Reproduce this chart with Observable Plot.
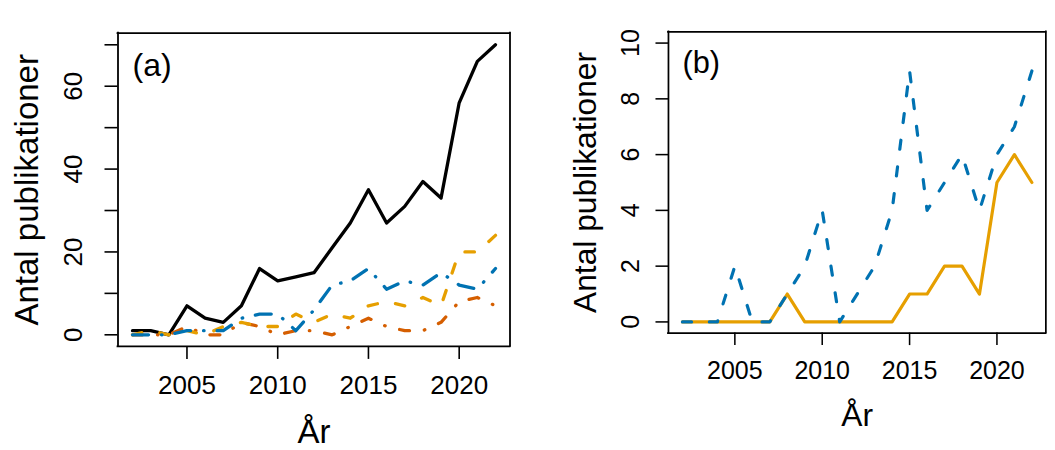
<!DOCTYPE html>
<html><head><meta charset="utf-8">
<script src="https://cdn.jsdelivr.net/npm/d3@7"></script>
<script src="https://cdn.jsdelivr.net/npm/@observablehq/plot@0.6"></script>
<style>
html,body{margin:0;padding:0;background:#fff;overflow:hidden;}
#wrap{position:relative;width:1055px;height:450px;overflow:hidden;background:#fff;}
#a,#b{position:absolute;top:0;}
#a{left:0;} #b{left:555px;}
</style></head><body>
<div id="wrap"><div id="a"></div><div id="b"></div></div>
<script>
const years = [2002,2003,2004,2005,2006,2007,2008,2009,2010,2011,2012,2013,2014,2015,2016,2017,2018,2019,2020,2021,2022];
const totalA  = [1,1,0,7,4,3,7,16,13,14,15,21,27,35,27,31,37,33,56,66,70];
const yellowA = [0,1,0,1,0,2,3,2,2,5,3,5,4,7,8,7,9,7,20,20,24];
const blueA   = [0,0,0,1,1,1,4,5,5,1,6,12,13,16,11,13,12,15,12,11,16];
const vermA   = [0,0,0,2,0,0,3,2,0,1,1,0,2,4,2,1,1,3,8,9,7];
const yellowB = [0,0,0,0,0,0,1,0,0,0,0,0,0,1,1,2,2,1,5,6,5];
const blueB   = [0,0,0,2,0,0,1,2,4,0,1,2,4,9,4,5,6,4,6,7,9];

const xTicks = [2005, 2010, 2015, 2020];
const yTicksA = [0,10,20,30,40,50,60,70];
const yLabelsA = [0,20,40,60];
const yTicksB = [0,2,4,6,8,10];
const yLabelsB = [0,2,4,6,8,10];
const yTitle = "Antal publikationer";
const xTitle = "År";
const xDomain = [2001.2, 2022.8];

const FONT = "'Liberation Sans', Arial, Helvetica, sans-serif";

function rows(vals){ return vals.map((v,i)=>({year: years[i], value: v})); }

function panel(o){
  const lines = o.series.map(s => Plot.line(rows(s.values), {
    x: "year", y: "value", stroke: s.color, strokeWidth: 3.3,
    strokeDasharray: s.dash, strokeLinecap: "round", strokeLinejoin: "round"
  }));
  return Plot.plot({
    width: o.width, height: 450,
    marginLeft: o.marginLeft, marginRight: o.marginRight,
    marginTop: 32.7, marginBottom: 104.1,
    style: {fontFamily: FONT, background: "white", color: "black"},
    x: {domain: xDomain},
    y: {domain: o.yDomain},
    marks: [
      ...lines,
      Plot.axisX({ticks: xTicks, tickSize: 13, tickFormat: () => "", label: null, stroke: "black", strokeWidth: 1.6}),
      Plot.axisY({ticks: o.yTicks, tickSize: 13, tickFormat: () => "", label: null, stroke: "black", strokeWidth: 1.6}),
      Plot.text(xTicks, {x: d => d, text: d => String(d), frameAnchor: "bottom", dy: 48, lineAnchor: "bottom", fontSize: 26, fill: "black"}),
      Plot.text(o.yLabels, {y: d => d, text: d => String(d), frameAnchor: "left", dx: o.tickDx, rotate: -90, textAnchor: "middle", lineAnchor: "bottom", fontSize: 26, fill: "black"}),
      Plot.text([xTitle], {text: d => d, frameAnchor: "bottom", dy: 97, lineAnchor: "bottom", fontSize: 33, fill: "black"}),
      Plot.text([yTitle], {text: d => d, frameAnchor: "left", dx: o.titleDx, rotate: -90, textAnchor: "middle", lineAnchor: "bottom", fontSize: 33, fill: "black"}),
      Plot.text([o.tag], {text: d => d, frameAnchor: "top-left", dx: 14.5, dy: 42.3, textAnchor: "start", lineAnchor: "bottom", fontSize: 32, fill: "black"}),
      Plot.ruleX(xDomain, {stroke: "black", strokeWidth: 1.8, strokeLinecap: "square"}),
      Plot.ruleY(o.yDomain, {stroke: "black", strokeWidth: 1.8, strokeLinecap: "square"})
    ]
  });
}

document.getElementById("a").append(panel({
  width: 530, marginLeft: 117.5, marginRight: 20.5,
  yDomain: [-2.8, 72.8], yTicks: yTicksA, yLabels: yLabelsA,
  tickDx: -36, titleDx: -80.5, tag: "(a)",
  series: [
    {values: totalA, color: "#000000", dash: null},
    {values: vermA, color: "#D55E00", dash: "10,15,0.5,15"},
    {values: yellowA, color: "#E69F00", dash: "9.5,18.5"},
    {values: blueA, color: "#0072B2", dash: "16,13,0.5,13"}
  ]
}));

document.getElementById("b").append(panel({
  width: 520, marginLeft: 117.5, marginRight: 10,
  yDomain: [-0.4, 10.4], yTicks: yTicksB, yLabels: yLabelsB,
  tickDx: -31, titleDx: -75.7, tag: "(b)",
  series: [
    {values: yellowB, color: "#E69F00", dash: null},
    {values: blueB, color: "#0072B2", dash: "9.5,18.5"}
  ]
}));
</script>
</body></html>
